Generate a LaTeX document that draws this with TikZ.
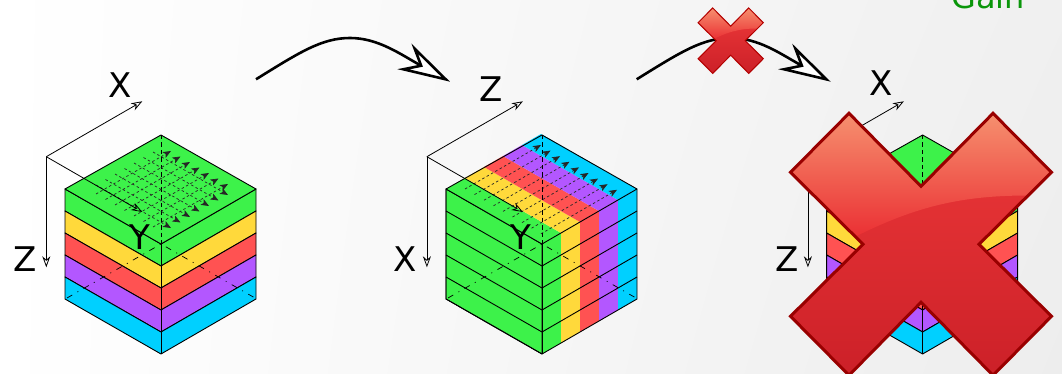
\documentclass[tikz,border=0pt]{standalone}
\usepackage{fontspec}
\setmainfont{DejaVu Sans}
\usetikzlibrary{arrows.meta, shadings}

\definecolor{cgreen}{HTML}{3DF24A}
\definecolor{cyellow}{HTML}{FFD93B}
\definecolor{cred}{HTML}{FF5252}
\definecolor{cpurple}{HTML}{B357FF}
\definecolor{cblue}{HTML}{00D0FF}
\definecolor{glosstop}{HTML}{F6906F}
\definecolor{glossbot}{HTML}{EA2A30}
\definecolor{crosstop}{HTML}{EE3A3A}
\definecolor{crossmid}{HTML}{E91C24}
\definecolor{crossbot}{HTML}{CC2028}
\definecolor{gaingreen}{HTML}{0A960A}

% cross: centre, scale, outline colour, outline width
\newcommand{\crossmark}[4]{
    \begin{scope}[shift={#1}, scale=#2]
        \begin{scope}
            \clip (-72,-131) -- (0,-58) -- (72,-131) -- (130.5,-72) -- (58,0) -- (130.5,72) -- (72,131) -- (0,58) -- (-72,131) -- (-130.5,72) -- (-58,0) -- (-130.5,-72) -- cycle;
            \shade[top color=crosstop, middle color=crossmid, bottom color=crossbot] (-131,-131) rectangle (131,131);
            \clip (135,-48) .. controls (50,-52) and (0,-40) .. (-63,-9) -- (-135,30) -- (-135,-135) -- (135,-135) -- cycle;
            \shade[top color=glosstop, bottom color=glossbot] (-131,-131) rectangle (131,0);
        \end{scope}
        \draw[draw=#3, line width=#4, line join=miter] (-72,-131) -- (0,-58) -- (72,-131) -- (130.5,-72) -- (58,0) -- (130.5,72) -- (72,131) -- (0,58) -- (-72,131) -- (-130.5,72) -- (-58,0) -- (-130.5,-72) -- cycle;
    \end{scope}
}

\begin{document}
\begin{tikzpicture}[x=1pt, y=-1pt,
    cubeedge/.style={draw=black, line width=0.9pt, line join=round},
    axisline/.style={line width=0.8pt, -{Stealth[open, length=11pt, width=8pt, inset=3.5pt]}},
    gridline/.style={line width=0.7pt, dash pattern=on 2.5pt off 2.5pt, draw=black!85, -{Stealth[length=8pt, width=6.5pt, inset=2pt, fill=black!85]}},
    hiddenline/.style={line width=0.7pt, dash pattern=on 4.5pt off 3pt, draw=black},
    hiddenlow/.style={line width=0.7pt, dash pattern=on 6pt off 6pt on 1pt off 6pt, draw=black},
    bigarrow/.style={line width=2.6pt, -{Stealth[open, length=52pt, width=29pt, inset=17pt, line width=2.6pt, fill=white]}},
    axislabel/.style={font=\fontsize{34}{34}\selectfont, inner sep=0pt}]

    \useasboundingbox (0,0) rectangle (1062,374);
    \clip (0,0) rectangle (1062,374);
    \shade[upper left=white, upper right=black!6, lower left=white, lower right=black!7] (0,0) rectangle (1062,374);

    \node[font=\fontsize{32}{32}\selectfont, text=gaingreen, anchor=base west, inner sep=0pt] (gain) at (951,9) {Gain};

    % layered cubes, first and third
    \foreach \cx in {0, 761.6} {
        \begin{scope}[xshift=\cx pt]
            \foreach \i/\c in {0/cgreen, 1/cyellow, 2/cred, 3/cpurple, 4/cblue} {
                \filldraw[cubeedge, fill=\c] (65,{189+22*\i}) -- (161,{244+22*\i}) -- (256,{189+22*\i}) -- (256,{211+22*\i}) -- (161,{266+22*\i}) -- (65,{211+22*\i}) -- cycle;
                \draw[cubeedge] (161,{244+22*\i}) -- (161,{266+22*\i});
            }
            \filldraw[cubeedge, fill=cgreen] (161,135) -- (256,189) -- (161,244) -- (65,189) -- cycle;
            \draw[hiddenline] (161,135) -- (161,244);
            \draw[hiddenlow] (67,298) -- (161,244) -- (255,298);
        \end{scope}
    }

    % grid on top
    \foreach \i in {0,...,6} {
        \draw[gridline] ({96+9.5*\i},{194+5.5*\i}) -- ({171+9.5*\i},{151+5.5*\i});
        \draw[gridline] ({96+9.5*\i},{185-5.5*\i}) -- ({171+9.5*\i},{228-5.5*\i});
    }

    % cube with stripes
    \begin{scope}[xshift=381pt]
        \filldraw[cubeedge, fill=cgreen] (65,189) -- (161,244) -- (161,354) -- (65,299) -- cycle;
        \foreach \i/\c in {0/cgreen, 1/cyellow, 2/cred, 3/cpurple, 4/cblue} {
            \fill[\c] ({161+19*\i},{244-11*\i}) -- ({180+19*\i},{233-11*\i}) -- ({180+19*\i},{343-11*\i}) -- ({161+19*\i},{354-11*\i}) -- cycle;
            \fill[\c] ({65+19*\i},{189-11*\i}) -- ({84+19*\i},{178-11*\i}) -- ({180+19*\i},{233-11*\i}) -- ({161+19*\i},{244-11*\i}) -- cycle;
        }
        \draw[cubeedge] (161,135) -- (256,189) -- (256,299) -- (161,354) -- (65,299) -- (65,189) -- cycle;
        \draw[cubeedge] (65,189) -- (161,244) -- (256,189);
        \draw[cubeedge] (161,244) -- (161,354);
        \foreach \i in {1,...,4} {
            \draw[cubeedge] (65,{189+22*\i}) -- (161,{244+22*\i}) -- (256,{189+22*\i});
        }

        % lines on top
        \foreach \i in {0,...,8} {
            \draw[gridline] ({84+9.5*\i},{189+5.6*\i}) -- ({160+9.5*\i},{145+5.6*\i});
        }
        \draw[hiddenline] (161,135) -- (161,244);
        \draw[hiddenlow] (67,298) -- (161,244) -- (255,298);
    \end{scope}

    % axes
    \foreach \cx/\n in {0/a, 380.6/b, 761.6/c} {
        \begin{scope}[xshift=\cx pt]
            \coordinate (o\n) at (46.3,156.7);
            \coordinate (x\n) at (142.3,101.3);
            \coordinate (y\n) at (142.3,212);
            \coordinate (z\n) at (46.3,267.3);
            \draw[axisline] (o\n) -- (x\n);
            \draw[axisline] (o\n) -- (y\n);
            \draw[axisline] (o\n) -- (z\n);
            \node[axislabel] (ylab\n) at (140,237) {Y};
        \end{scope}
    }

    % axis names
    \node[axislabel] (xlaba) at (120,85) {X};
    \node[axislabel] (zlaba) at (25,259) {Z};
    \node[axislabel] (zlabb) at (491,89) {Z};
    \node[axislabel] (xlabb) at (405,259) {X};
    \node[axislabel] (xlabc) at (881,83) {X};
    \node[axislabel] (zlabc) at (787,259) {Z};

    % transform arrows
    \coordinate (starta) at (256,79.3);
    \coordinate (enda) at (450,81.7);
    \coordinate (startb) at (636.7,79.3);
    \coordinate (endb) at (830.7,81.7);
    \draw[bigarrow] (starta) .. controls (300,52) and (322,38) .. (350,38) .. controls (378,38) and (400,54) .. (enda);
    \draw[bigarrow] (startb) .. controls (680.7,52) and (702.7,38) .. (730.7,38) .. controls (758.7,38) and (780.7,54) .. (endb);

    % crosses
    \crossmark{(730.7,40.7)}{0.25}{red!70!black}{1pt}
    \crossmark{(921,244.3)}{1}{black!40!red}{3pt}
\end{tikzpicture}
\end{document}
